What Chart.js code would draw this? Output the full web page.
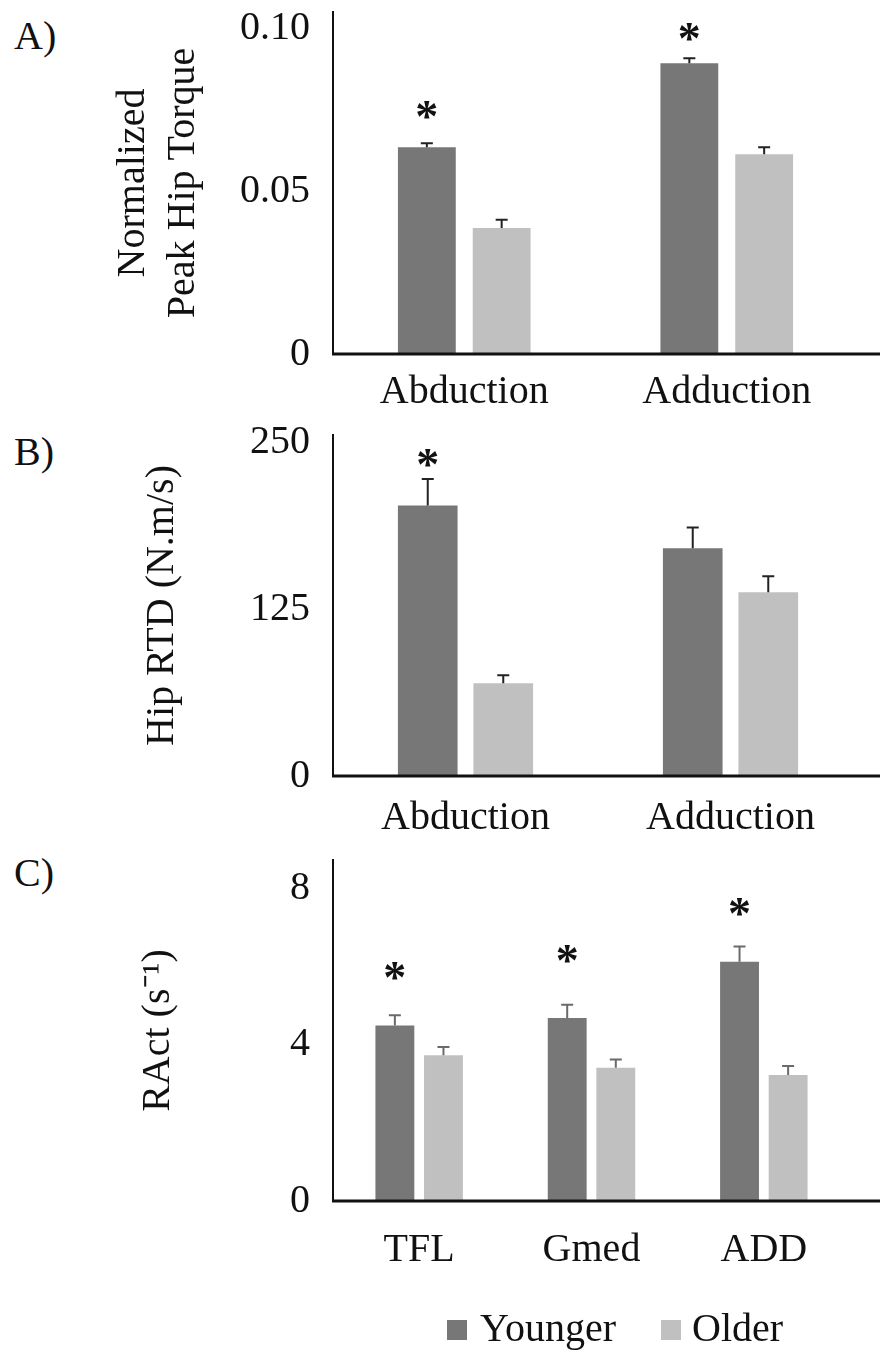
<!DOCTYPE html>
<html>
<head>
<meta charset="utf-8">
<script src="https://cdn.jsdelivr.net/npm/chart.js@4.4.0/dist/chart.umd.min.js"></script>
<style>
  body { margin: 0; background: #fff; width: 880px; height: 1351px; position: relative; overflow: hidden;
         font-family: "Liberation Serif", "Times New Roman", serif; color: #111; }
  canvas { position: absolute; left: 0; }
  .tag { position: absolute; left: 14px; font-size: 40px; line-height: 40px; }
  .key { position: absolute; width: 20px; height: 20px; top: 1320px; }
  .keytext { position: absolute; top: 1308px; font-size: 40px; line-height: 40px; }
</style>
</head>
<body>
<div class="tag" style="top:16px">A)</div>
<div class="tag" style="top:432px">B)</div>
<div class="tag" style="top:853px">C)</div>

<canvas id="chartA" width="880" height="420" style="top:0px"></canvas>
<canvas id="chartB" width="880" height="420" style="top:420px"></canvas>
<canvas id="chartC" width="880" height="511" style="top:840px"></canvas>

<div class="key" id="keyYoung" style="left:447px"></div>
<div class="keytext" id="txtYoung" style="left:480px"></div>
<div class="key" id="keyOld" style="left:661px"></div>
<div class="keytext" id="txtOld" style="left:692px"></div>

<script>
var groups = ["Younger", "Older"];
var youngColor = "#777777";
var oldColor = "#c0c0c0";

// A) normalized peak hip torque
var torqueCats = ["Abduction", "Adduction"];
var torqueYounger = [0.0635, 0.0893];
var torqueOlder = [0.0387, 0.0613];
var torqueYoungerErr = [0.0012, 0.0015];
var torqueOlderErr = [0.0025, 0.0022];
var torqueStars = [0.0748, 0.0988];
var torqueTicks = [0, 0.05, 0.10];
var torqueTickLabels = ["0", "0.05", "0.10"];

// B) hip rate of torque development
var rtdCats = ["Abduction", "Adduction"];
var rtdYounger = [203, 171];
var rtdOlder = [69.6, 137.9];
var rtdYoungerErr = [20, 15.5];
var rtdOlderErr = [6, 12];
var rtdStars = [239, null];
var rtdTicks = [0, 125, 250];
var rtdTickLabels = ["0", "125", "250"];

// C) rate of muscle activation
var ractCats = ["TFL", "Gmed", "ADD"];
var ractYounger = [4.49, 4.68, 6.12];
var ractOlder = [3.73, 3.41, 3.22];
var ractYoungerErr = [0.26, 0.34, 0.39];
var ractOlderErr = [0.21, 0.21, 0.23];
var ractStars = [5.88, 6.31, 7.52];
var ractTicks = [0, 4, 8];
var ractTickLabels = ["0", "4", "8"];

var serif = "'Liberation Serif', 'Times New Roman', serif";

// error bars, asterisks and the long x axis line
var extras = {
    id: "extras",
    afterDatasetsDraw: function (chart) {
        var ctx = chart.ctx;
        var y = chart.scales.y;
        var area = chart.chartArea;
        var cfg = chart.config.options.plugins.extras;
        ctx.save();
        chart.data.datasets.forEach(function (ds, i) {
            var meta = chart.getDatasetMeta(i);
            meta.data.forEach(function (bar, j) {
                var top = y.getPixelForValue(ds.data[j] + ds.errors[j]);
                ctx.strokeStyle = cfg.errColor;
                ctx.lineWidth = 2;
                ctx.beginPath();
                ctx.moveTo(bar.x, bar.y);
                ctx.lineTo(bar.x, top);
                ctx.moveTo(bar.x - 6, top);
                ctx.lineTo(bar.x + 6, top);
                ctx.stroke();
            });
        });
        var young = chart.getDatasetMeta(0);
        ctx.fillStyle = "#111";
        ctx.font = "bold 46px " + serif;
        ctx.textAlign = "center";
        ctx.textBaseline = "alphabetic";
        var m = ctx.measureText("*");
        var shift = (m.actualBoundingBoxAscent - m.actualBoundingBoxDescent) / 2;
        cfg.stars.forEach(function (v, j) {
            if (v === null) return;
            ctx.fillText("*", young.data[j].x, y.getPixelForValue(v) + shift);
        });
        ctx.strokeStyle = "#111";
        ctx.lineWidth = 3;
        ctx.beginPath();
        ctx.moveTo(area.left - 1, area.bottom);
        ctx.lineTo(chart.width, area.bottom);
        ctx.stroke();
        ctx.restore();
    }
};

function makeChart(id, p) {
    return new Chart(document.getElementById(id), {
        type: "bar",
        data: {
            labels: p.cats,
            datasets: [
                { label: groups[0], data: p.young, errors: p.youngErr, backgroundColor: youngColor,
                  barPercentage: p.barPct, categoryPercentage: p.catPct },
                { label: groups[1], data: p.old, errors: p.oldErr, backgroundColor: oldColor,
                  barPercentage: p.barPct, categoryPercentage: p.catPct }
            ]
        },
        options: {
            responsive: false,
            animation: false,
            devicePixelRatio: 1,
            layout: { padding: { top: p.padTop, right: p.padRight, left: 0, bottom: 0 } },
            plugins: {
                legend: { display: false },
                tooltip: { enabled: false },
                extras: { stars: p.stars, errColor: p.errColor }
            },
            scales: {
                x: {
                    grid: { display: false, drawTicks: false },
                    border: { display: false },
                    ticks: { color: "#111", padding: p.xPad, font: { family: serif, size: 40 } },
                    afterFit: function (s) { s.height = p.xHeight; }
                },
                y: {
                    min: 0,
                    max: p.yMax,
                    grid: { display: false, drawTicks: false },
                    border: { display: true, color: "#111", width: 2 },
                    afterBuildTicks: function (s) {
                        s.ticks = p.ticks.map(function (v) { return { value: v }; });
                    },
                    ticks: {
                        color: "#111", padding: 23, font: { family: serif, size: 40 },
                        callback: function (v, i) { return p.tickLabels[i]; }
                    },
                    title: {
                        display: true, text: p.title, color: "#111",
                        font: { family: serif, size: 40, lineHeight: 1.25 },
                        padding: { top: p.titlePad, bottom: 0 }
                    },
                    afterFit: function (s) {
                        s.width = 333;
                        s.paddingTop = 0;
                        s.paddingBottom = 0;
                    }
                }
            }
        },
        plugins: [extras]
    });
}

makeChart("chartA", {
    cats: torqueCats, young: torqueYounger, old: torqueOlder,
    youngErr: torqueYoungerErr, oldErr: torqueOlderErr, stars: torqueStars,
    ticks: torqueTicks, tickLabels: torqueTickLabels, yMax: 0.105,
    title: ["Normalized", "Peak Hip Torque"], titlePad: 108,
    padTop: 12, padRight: 22, xHeight: 66, xPad: 14,
    barPct: 0.773, catPct: 0.57, errColor: "#222"
});

makeChart("chartB", {
    cats: rtdCats, young: rtdYounger, old: rtdOlder,
    youngErr: rtdYoungerErr, oldErr: rtdOlderErr, stars: rtdStars,
    ticks: rtdTicks, tickLabels: rtdTickLabels, yMax: 256,
    title: "Hip RTD (N.m/s)", titlePad: 137,
    padTop: 15, padRight: 17, xHeight: 64, xPad: 18,
    barPct: 0.79, catPct: 0.57, errColor: "#222"
});

makeChart("chartC", {
    cats: ractCats, young: ractYounger, old: ractOlder,
    youngErr: ractYoungerErr, oldErr: ractOlderErr, stars: ractStars,
    ticks: ractTicks, tickLabels: ractTickLabels, yMax: 8.72,
    title: "RAct (s\u207B\u00B9)", titlePad: 133,
    padTop: 20, padRight: 30, xHeight: 150, xPad: 25,
    barPct: 0.80, catPct: 0.564, errColor: "#6a6a6a"
});

document.getElementById("keyYoung").style.background = youngColor;
document.getElementById("keyOld").style.background = oldColor;
document.getElementById("txtYoung").textContent = groups[0];
document.getElementById("txtOld").textContent = groups[1];
</script>
</body>
</html>
